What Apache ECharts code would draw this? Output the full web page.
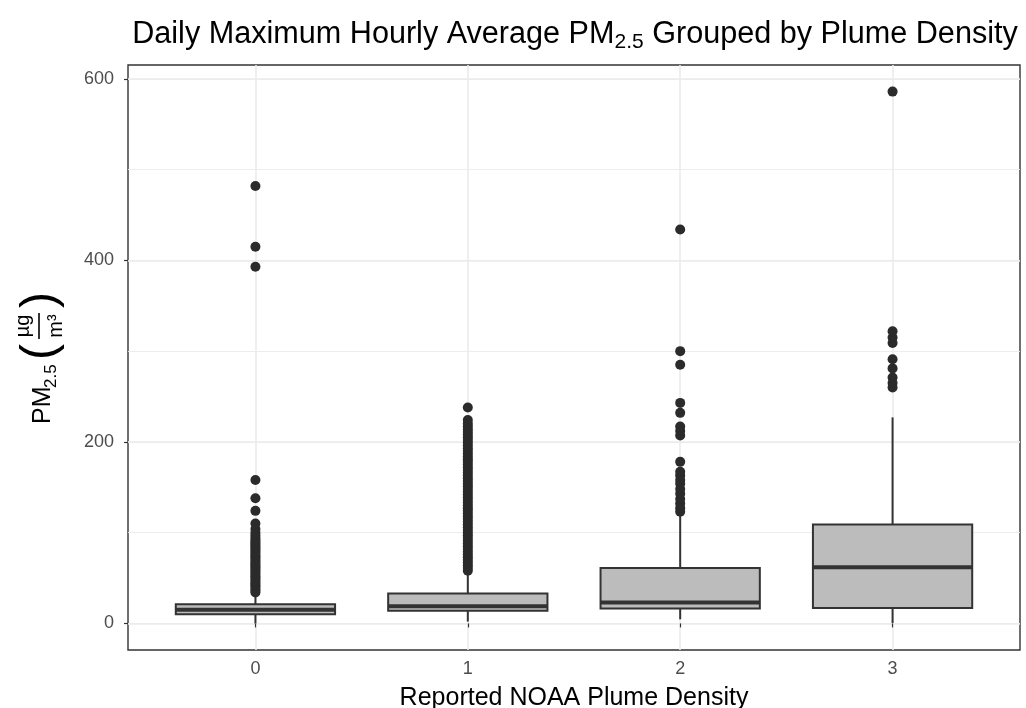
<!DOCTYPE html>
<html>
<head>
<meta charset="utf-8">
<script src="https://cdn.jsdelivr.net/npm/echarts@6/dist/echarts.min.js"></script>
<style>
  html, body { margin: 0; padding: 0; background: #fff; }
  #main { width: 1026px; height: 708px; }
</style>
</head>
<body>
<div id="main"></div>
<script>
// plume density classes on the x axis
var categories = [0, 1, 2, 3];
// box statistics per class (ug/m3)
var whiskerLow  = [0, 2, 4.5, 0.5];
var q1          = [10, 14, 16.5, 17];
var median      = [15, 19, 23, 62];
var q3          = [21, 33, 61, 109];
var whiskerHigh = [32, 57, 119, 227];
// outliers, one list per class
var outliers0 = [34, 36, 38, 40, 42, 44, 46, 48, 50, 52, 54, 56, 58, 60, 62, 64, 66, 68, 70, 72,
  74, 76, 78, 80, 82, 84, 86, 88, 90, 92, 94, 97, 100, 104, 110, 124, 138, 158, 393, 415, 482];
var outliers1 = [58, 61, 64, 67, 70, 73, 76, 79, 82, 85, 88, 91, 94, 97, 100, 103, 106, 109, 112,
  115, 118, 121, 124, 127, 130, 133, 136, 139, 142, 145, 148, 151, 154, 157, 160, 163, 166, 169,
  172, 175, 178, 181, 184, 187, 190, 193, 196, 199, 202, 205, 208, 211, 214, 217, 220, 224, 238];
var outliers2 = [123, 127, 132, 137, 143, 148, 154, 158, 163, 167, 178, 207, 212, 217, 232, 243, 285, 300, 434];
var outliers3 = [260, 265, 271, 281, 291, 309, 315, 322, 586];
var yTicks = [0, 200, 400, 600];

var boxData = categories.map(function (c, i) {
  return [c, whiskerLow[i], q1[i], median[i], q3[i], whiskerHigh[i]];
});
var pointData = [];
[outliers0, outliers1, outliers2, outliers3].forEach(function (list, i) {
  list.forEach(function (v) { pointData.push([categories[i], v]); });
});

var ink = '#333333';

function renderBox(params, api) {
  var x = api.value(0);
  var pLow = api.coord([x, api.value(1)]);
  var pQ1 = api.coord([x, api.value(2)]);
  var pMed = api.coord([x, api.value(3)]);
  var pQ3 = api.coord([x, api.value(4)]);
  var pHigh = api.coord([x, api.value(5)]);
  var half = api.size([0.75, 0])[0] / 2;
  return {
    type: 'group',
    children: [
      { type: 'line', shape: { x1: pLow[0], y1: pLow[1], x2: pQ1[0], y2: pQ1[1] }, style: { stroke: ink, lineWidth: 2 } },
      { type: 'line', shape: { x1: pQ3[0], y1: pQ3[1], x2: pHigh[0], y2: pHigh[1] }, style: { stroke: ink, lineWidth: 2 } },
      { type: 'rect', shape: { x: pQ3[0] - half, y: pQ3[1], width: half * 2, height: pQ1[1] - pQ3[1] },
        style: { fill: '#bcbcbc', stroke: ink, lineWidth: 2 } },
      { type: 'line', shape: { x1: pMed[0] - half, y1: pMed[1], x2: pMed[0] + half, y2: pMed[1] }, style: { stroke: ink, lineWidth: 4 } }
    ]
  };
}

var chart = echarts.init(document.getElementById('main'));
var font = 'Liberation Sans, Arial, sans-serif';

chart.setOption({
  animation: false,
  backgroundColor: '#ffffff',
  textStyle: { fontFamily: font },
  title: {
    text: '{a|Daily Maximum Hourly Average PM}{s|2.5}{a| Grouped by Plume Density}',
    left: 570,
    top: 12,
    textAlign: 'center',
    textStyle: {
      fontWeight: 'normal',
      rich: {
        a: { fontSize: 30.6, color: '#000', fontWeight: 'normal', fontFamily: font, lineHeight: 36, verticalAlign: 'middle' },
        s: { fontSize: 21, color: '#000', fontWeight: 'normal', fontFamily: font, lineHeight: 36, verticalAlign: 'bottom', padding: [14, 0, 0, 0] }
      }
    }
  },
  grid: {
    left: 128, right: 6, top: 65, bottom: 58,
    outerBoundsMode: 'none',
    containLabel: false,
    show: true, borderColor: ink, borderWidth: 1.4, backgroundColor: '#fff'
  },
  xAxis: {
    type: 'value',
    min: -0.6, max: 3.6,
    minInterval: 1, maxInterval: 1,
    name: 'Reported NOAA Plume Density',
    nameLocation: 'middle',
    nameGap: 36,
    nameTextStyle: { fontSize: 25, color: '#000', fontFamily: font },
    axisLine: { show: false },
    axisTick: { show: true, length: 4, lineStyle: { color: ink, width: 1.2 } },
    axisLabel: {
      fontSize: 18, color: '#4d4d4d', margin: 10, fontFamily: font,
      showMinLabel: false, showMaxLabel: false,
      formatter: function (v) { return categories.indexOf(v) >= 0 ? String(v) : ''; }
    },
    splitLine: { show: true, showMinLine: false, showMaxLine: false, lineStyle: { color: '#ebebeb', width: 1.6 } }
  },
  yAxis: [{
    type: 'value',
    position: 'left',
    min: -29.3, max: 615.3,
    minInterval: 100, maxInterval: 100,
    axisLine: { show: false },
    axisTick: { show: false },
    axisLabel: { show: false },
    splitLine: { show: true, showMinLine: false, showMaxLine: false, lineStyle: { color: '#ebebeb', width: 0.9 } }
  }, {
    type: 'value',
    position: 'left',
    min: -29.3, max: 615.3,
    minInterval: 200, maxInterval: 200,
    axisLine: { show: false },
    axisTick: { show: true, length: 4, lineStyle: { color: ink, width: 1.2 } },
    axisLabel: {
      fontSize: 18, color: '#4d4d4d', margin: 14, fontFamily: font,
      showMinLabel: false, showMaxLabel: false,
      formatter: function (v) { return yTicks.indexOf(v) >= 0 ? String(v) : ''; }
    },
    splitLine: { show: true, showMinLine: false, showMaxLine: false, lineStyle: { color: '#ebebeb', width: 1.6 } }
  }],
  graphic: [{
    type: 'group',
    x: 42, y: 358,
    rotation: Math.PI / 2,
    children: [
      { type: 'text', x: -66, y: 1, style: { text: 'PM', font: '25px ' + font, fill: '#000', verticalAlign: 'middle' } },
      { type: 'text', x: -30, y: 9, style: { text: '2.5', font: '17px ' + font, fill: '#000', verticalAlign: 'middle' } },
      { type: 'text', x: -2, y: -1, style: { text: '(', font: '48px ' + font, fill: '#000', verticalAlign: 'middle' } },
      { type: 'text', x: 32, y: -19, style: { text: 'µg', font: '20px ' + font, fill: '#000', align: 'center', verticalAlign: 'middle' } },
      { type: 'line', shape: { x1: 19, y1: -3, x2: 45, y2: -3 }, style: { stroke: '#000', lineWidth: 1.6 } },
      { type: 'text', x: 32, y: 14, style: { text: 'm³', font: '20px ' + font, fill: '#000', align: 'center', verticalAlign: 'middle' } },
      { type: 'text', x: 50, y: -1, style: { text: ')', font: '48px ' + font, fill: '#000', verticalAlign: 'middle' } }
    ]
  }],
  series: [{
    type: 'custom',
    yAxisIndex: 1,
    renderItem: renderBox,
    encode: { x: 0, y: [1, 2, 3, 4, 5] },
    data: boxData,
    z: 2
  }, {
    type: 'scatter',
    yAxisIndex: 1,
    symbolSize: 10,
    itemStyle: { color: '#2b2b2b', opacity: 1 },
    data: pointData,
    z: 3
  }]
});
</script>
</body>
</html>
